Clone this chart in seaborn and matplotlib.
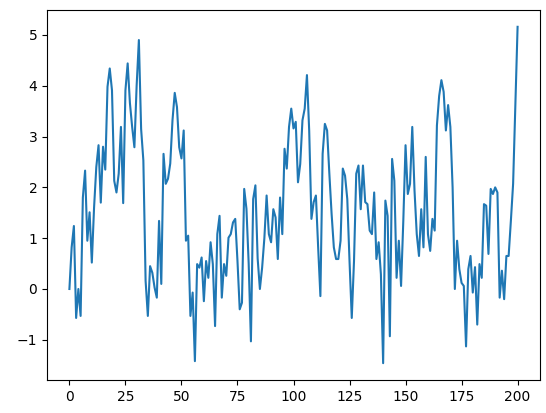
import matplotlib
matplotlib.use("Agg")
import matplotlib.pyplot as plt
import seaborn as sns
import pandas as pd

# values, one per step 0..200
valores = [
    0.0, 0.82, 1.24, -0.57, 0.0, -0.53, 1.8, 2.33, 0.95, 1.51,
    0.52, 1.6, 2.4, 2.83, 1.7, 2.8, 2.35, 3.98, 4.34, 3.91,
    2.13, 1.9, 2.27, 3.19, 1.69, 3.91, 4.44, 3.66, 3.19, 2.79,
    4.0, 4.9, 3.15, 2.53, 0.16, -0.53, 0.45, 0.32, 0.03, -0.17,
    1.34, 0.1, 2.66, 2.07, 2.17, 2.47, 3.32, 3.86, 3.58, 2.79,
    2.57, 3.12, 0.95, 1.05, -0.53, -0.07, -1.42, 0.49, 0.42, 0.62,
    -0.24, 0.55, 0.22, 0.92, 0.49, -0.73, 1.08, 1.44, -0.17, 0.49,
    0.26, 1.01, 1.08, 1.31, 1.38, 0.55, -0.4, -0.27, 1.97, 1.58,
    0.5, -1.03, 1.77, 2.04, 0.6, 0.0, 0.42, 1.0, 1.84, 1.08,
    0.92, 1.57, 1.41, 0.59, 1.8, 1.08, 2.76, 2.37, 3.19, 3.55,
    3.16, 3.29, 2.1, 2.46, 3.32, 3.55, 4.21, 3.12, 1.38, 1.71,
    1.84, 0.82, -0.14, 2.66, 3.25, 3.12, 2.27, 1.48, 0.82, 0.59,
    0.59, 0.95, 2.37, 2.23, 1.77, 0.55, -0.57, 0.55, 2.27, 2.43,
    1.57, 2.43, 1.71, 1.67, 1.15, 1.08, 1.9, 0.59, 0.92, 0.29,
    -1.46, 1.74, 1.44, -0.93, 2.56, 2.13, 0.22, 0.95, 0.06, 1.34,
    2.83, 1.87, 2.07, 3.19, 1.94, 1.08, 0.65, 1.57, 0.82, 2.6,
    1.08, 0.75, 1.38, 1.15, 3.22, 3.8, 4.11, 3.88, 3.12, 3.62,
    3.19, 2.0, 0.0, 0.95, 0.39, 0.12, 0.06, -1.13, 0.39, 0.65,
    -0.07, 0.43, -0.7, 0.49, 0.22, 1.67, 1.64, 0.69, 1.97, 1.87,
    2.0, 1.9, -0.17, 0.36, -0.2, 0.65, 0.65, 1.34, 2.07, 3.6,
    5.16,
]
passos = list(range(len(valores)))

df = pd.DataFrame({"passo": passos, "valor": valores})

fig = plt.figure(figsize=(5.46, 4.13), dpi=100)
ax = fig.add_axes([47 / 546, 1 - 380 / 413, 493 / 546, 370 / 413])
sns.lineplot(x="passo", y="valor", data=df, color="#1f77b4", linewidth=1.5, ax=ax)

ax.set_xlabel("")
ax.set_ylabel("")

plt.savefig("out.png", dpi=100)
